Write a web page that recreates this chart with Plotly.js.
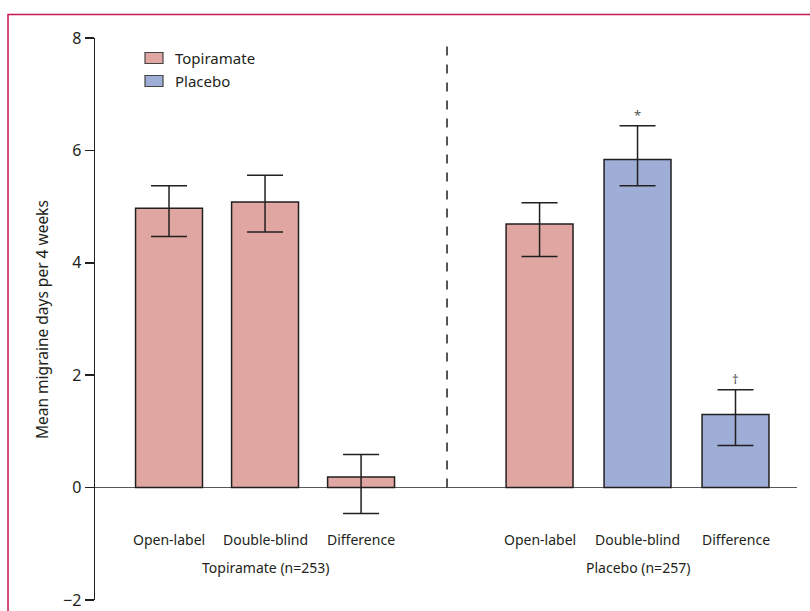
<!DOCTYPE html>
<html>
<head>
<meta charset="utf-8">
<script src="https://cdn.plot.ly/plotly-3.0.1.min.js"></script>
<style>
html,body{margin:0;padding:0;background:#fff;}
#chart{width:810px;height:611px;}
</style>
</head>
<body>
<div id="chart"></div>
<script>
// Data
const categories = ["Open-label", "Double-blind", "Difference", "Open-label", "Double-blind", "Difference"];
const groupLabels = ["Topiramate (n=253)", "Placebo (n=257)"];
const positions = [0, 0.99, 1.98, 3.82, 4.83, 5.84];
const means = [4.97, 5.08, 0.19, 4.69, 5.84, 1.30];
const ciUpper = [5.37, 5.56, 0.59, 5.07, 6.44, 1.74];
const ciLower = [4.47, 4.55, -0.46, 4.11, 5.37, 0.75];
const treatment = ["Topiramate", "Topiramate", "Topiramate", "Topiramate", "Placebo", "Placebo"];
const markers = ["", "", "", "", "*", "†"];
const legendNames = ["Topiramate", "Placebo"];
const yTicks = [-2, 0, 2, 4, 6, 8];
const yTickText = ["−2", "0", "2", "4", "6", "8"];

const colors = {Topiramate: "#e0a7a2", Placebo: "#9eaed7"};
const FONT = "Noto Sans, Open Sans, sans-serif";
const INK = "#231f20";

function traceFor(name) {
  const idx = treatment.map((t, i) => t === name ? i : -1).filter(i => i >= 0);
  return {
    type: "bar",
    name: name,
    x: idx.map(i => positions[i]),
    y: idx.map(i => means[i]),
    width: 0.69,
    marker: {color: colors[name], line: {color: INK, width: 1.5}},
    error_y: {
      type: "data", symmetric: false,
      array: idx.map(i => ciUpper[i] - means[i]),
      arrayminus: idx.map(i => means[i] - ciLower[i]),
      color: INK, thickness: 1.5, width: 18
    },
    showlegend: false,
    hoverinfo: "skip"
  };
}

const traces = [traceFor("Topiramate"), traceFor("Placebo")];

const annotations = [];
categories.forEach((c, i) => {
  annotations.push({x: positions[i], y: 0.1085, xref: "x", yref: "paper", text: c, showarrow: false,
    font: {family: FONT, size: 14, color: INK}, xanchor: "center", yanchor: "middle"});
  if (markers[i]) {
    annotations.push({x: positions[i], y: ciUpper[i], xref: "x", yref: "y", text: markers[i], showarrow: false,
      font: {family: FONT, size: 13, color: "#555"}, xanchor: "center", yanchor: "bottom", yshift: 0});
  }
});
annotations.push({x: (positions[0] + positions[2]) / 2, y: 0.0587, xref: "x", yref: "paper", text: groupLabels[0], showarrow: false,
  font: {family: FONT, size: 14, color: INK}, xanchor: "center", yanchor: "middle"});
annotations.push({x: (positions[3] + positions[5]) / 2, y: 0.0587, xref: "x", yref: "paper", text: groupLabels[1], showarrow: false,
  font: {family: FONT, size: 14, color: INK}, xanchor: "center", yanchor: "middle"});
annotations.push({x: -0.0755, y: 0.5, xref: "paper", yref: "paper", text: "Mean migraine days per 4 weeks", textangle: -90,
  showarrow: false, font: {family: FONT, size: 15.5, color: INK}, xanchor: "center", yanchor: "middle"});

// custom legend (rectangular swatches like the reference)
const shapes = [
  {type: "line", xref: "x", yref: "y", x0: 2.866, x1: 2.866, y0: 0, y1: 8, line: {color: INK, width: 1.5, dash: "dash"}},
  {type: "rect", xref: "paper", yref: "paper", x0: -0.1239, x1: 1.2, y0: -0.3, y1: 1.0418, line: {color: "#c8174d", width: 1.5}, layer: "above"}
];
legendNames.forEach((n, k) => {
  const yc = 1 - (20 + 23 * k) / 562; // row centres, paper units
  shapes.push({type: "rect", xref: "paper", yref: "paper", x0: 50 / 702, x1: 68 / 702, y0: yc - 5.5 / 562, y1: yc + 5.5 / 562,
    fillcolor: colors[n], line: {color: "#444", width: 1.2}});
  annotations.push({x: 78 / 702, y: yc, xref: "paper", yref: "paper", text: n, showarrow: false,
    font: {family: FONT, size: 15, color: INK}, xanchor: "left", yanchor: "middle"});
});

const layout = {
  width: 810, height: 611,
  margin: {l: 95, r: 13, t: 38, b: 11},
  paper_bgcolor: "#fff", plot_bgcolor: "#fff",
  showlegend: false,
  xaxis: {range: [-0.763, 6.474], showgrid: false, zeroline: false, showline: false, showticklabels: false, ticks: "", fixedrange: true},
  yaxis: {range: [-2, 8], tickvals: yTicks, ticktext: yTickText, showgrid: false, zeroline: true, zerolinecolor: "#58595b", zerolinewidth: 1.5,
    showline: true, linecolor: INK, linewidth: 1.5, ticks: "outside", ticklen: 9, tickwidth: 1.5, tickcolor: INK,
    tickfont: {family: FONT, size: 16, color: INK}, fixedrange: true},
  shapes: shapes,
  annotations: annotations,
  bargap: 0
};

Plotly.newPlot("chart", traces, layout, {displayModeBar: false, staticPlot: true});
</script>
</body>
</html>
